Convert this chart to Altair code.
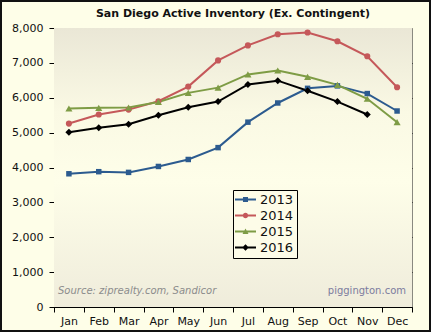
import altair as alt
import pandas as pd

months = ["Jan", "Feb", "Mar", "Apr", "May", "Jun", "Jul", "Aug", "Sep", "Oct", "Nov", "Dec"]
years = ["2013", "2014", "2015", "2016"]
v2013 = [3820, 3880, 3860, 4030, 4230, 4570, 5300, 5850, 6270, 6340, 6120, 5620]
v2014 = [5260, 5520, 5660, 5900, 6320, 7070, 7500, 7820, 7870, 7620, 7190, 6300]
v2015 = [5690, 5710, 5720, 5880, 6140, 6290, 6670, 6780, 6600, 6370, 5970, 5300]
v2016 = [5010, 5140, 5240, 5500, 5730, 5890, 6380, 6490, 6200, 5890, 5520, None]
colors = ["#2C5B8F", "#C5585A", "#7E9C45", "#000000"]
marker_shapes = ["square", "circle", "triangle-up", "diamond"]
marker_sizes = [30, 38, 50, 50]

series = {"2013": v2013, "2014": v2014, "2015": v2015, "2016": v2016}
rows = []
for y in years:
    for i, v in enumerate(series[y]):
        if v is not None:
            rows.append({"year": y, "month": months[i], "value": v})
df = pd.DataFrame(rows)

W, H = 358, 279

line_part = "M-1.75,-0.17 L1.75,-0.17 L1.75,0.17 L-1.75,0.17 Z "
legend_paths = [
    line_part + "M-0.42,-0.42 L0.42,-0.42 L0.42,0.42 L-0.42,0.42 Z",
    line_part + "M-0.45,0 A0.45,0.45 0 1,1 0.45,0 A0.45,0.45 0 1,1 -0.45,0 Z",
    line_part + "M0,-0.5 L0.5,0.4 L-0.5,0.4 Z",
    line_part + "M0,-0.55 L0.55,0 L0,0.55 L-0.55,0 Z",
]

xscale = alt.Scale(type="band", domain=months, paddingInner=0, paddingOuter=0)
yscale = alt.Scale(domain=[0, 8000], nice=False)
color_scale = alt.Scale(domain=years, range=colors)

xaxis = alt.Axis(
    title=None, grid=False, tickSize=5, tickColor="#000", domainColor="#000",
    tickBand="extent", labelAngle=0,
    labelFont="DejaVu Sans", labelFontSize=11, labelColor="#111", labelPadding=3,
    labelFlush=False, labelOverlap=False)
yaxis = alt.Axis(
    values=list(range(0, 8001, 1000)), format=",d", title=None,
    grid=True, gridColor=alt.condition("datum.value == 8000", alt.value("#8a8a80"), alt.value("#000000")),
    gridWidth=1, tickSize=5, tickColor="#000", domainColor="#000",
    labelFont="DejaVu Sans", labelFontSize=11, labelColor="#111", labelPadding=6)
legend = alt.Legend(
    title=None, orient="none", legendX=179, legendY=162,
    strokeColor="#000", fillColor="#FDFCE8", padding=3,
    labelFont="DejaVu Sans", labelFontSize=13, labelColor="#111",
    symbolSize=144, symbolOpacity=1, rowPadding=2, labelOffset=8,
    symbolOffset=3, symbolStrokeWidth=0)

X = alt.X("month:N", scale=xscale, sort=months, axis=xaxis, bandPosition=0.5)
Y = alt.Y("value:Q", scale=yscale, axis=yaxis)
C = alt.Color("year:N", scale=color_scale, legend=legend)

bg = alt.Chart(pd.DataFrame({"a": [0]})).mark_rect(
    fill=alt.Gradient(
        gradient="linear",
        stops=[
            alt.GradientStop(color="#EAE7D6", offset=0),
            alt.GradientStop(color="#FAF9E4", offset=0.3),
            alt.GradientStop(color="#FEFEE9", offset=0.55),
            alt.GradientStop(color="#EFECDB", offset=1),
        ],
        x1=0, x2=0, y1=0, y2=1,
    )
).encode(x=alt.value(0), x2=alt.value(W), y=alt.value(0), y2=alt.value(H))

frame = alt.Chart(pd.DataFrame({"a": [0]})).mark_rect(
    fill=None, stroke="#111111", strokeWidth=2
).encode(x=alt.value(-53), x2=alt.value(431 - 54 - 1), y=alt.value(-27), y2=alt.value(332 - 28 - 1))

base = alt.Chart(df)

legend_layer = base.mark_point(filled=True, size=144, opacity=0).encode(
    x=X, y=Y, color=C,
    shape=alt.Shape("year:N", scale=alt.Scale(domain=years, range=legend_paths), legend=legend),
)

lines = base.mark_line(strokeWidth=2).encode(x=X, y=Y, color=C, detail="year:N")

point_layers = []
for yr, shp, sz in zip(years, marker_shapes, marker_sizes):
    point_layers.append(
        base.transform_filter(alt.datum.year == yr)
        .mark_point(filled=True, opacity=1, shape=shp, size=sz)
        .encode(x=X, y=Y, color=C)
    )

notes = pd.DataFrame({"t": ["Source: ziprealty.com, Sandicor"]})
source = alt.Chart(notes).mark_text(
    align="left", baseline="middle", font="DejaVu Sans", fontStyle="italic",
    fontSize=10, color="#8c8c8c"
).encode(x=alt.value(4), y=alt.value(263), text="t:N")

site = alt.Chart(pd.DataFrame({"t": ["piggington.com"]})).mark_text(
    align="right", baseline="middle", font="DejaVu Sans", fontSize=10, color="#7C7C9E"
).encode(x=alt.value(352), y=alt.value(263), text="t:N")

chart = alt.layer(bg, legend_layer, lines, *point_layers, source, site, frame).properties(
    width=W, height=H,
    title=alt.TitleParams("San Diego Active Inventory (Ex. Contingent)", font="DejaVu Sans",
                          fontSize=11, fontWeight="bold", color="#111", offset=9,
                          anchor="middle", frame="group", dy=28),
    autosize=alt.AutoSizeParams(type="none"),
    padding={"left": 54, "top": 28, "right": 19, "bottom": 25},
    background="#FEFEE8",
).configure_view(stroke="#8a8a80", strokeWidth=1)

chart.save("out.html", embed_options={"renderer": "svg", "actions": False})
